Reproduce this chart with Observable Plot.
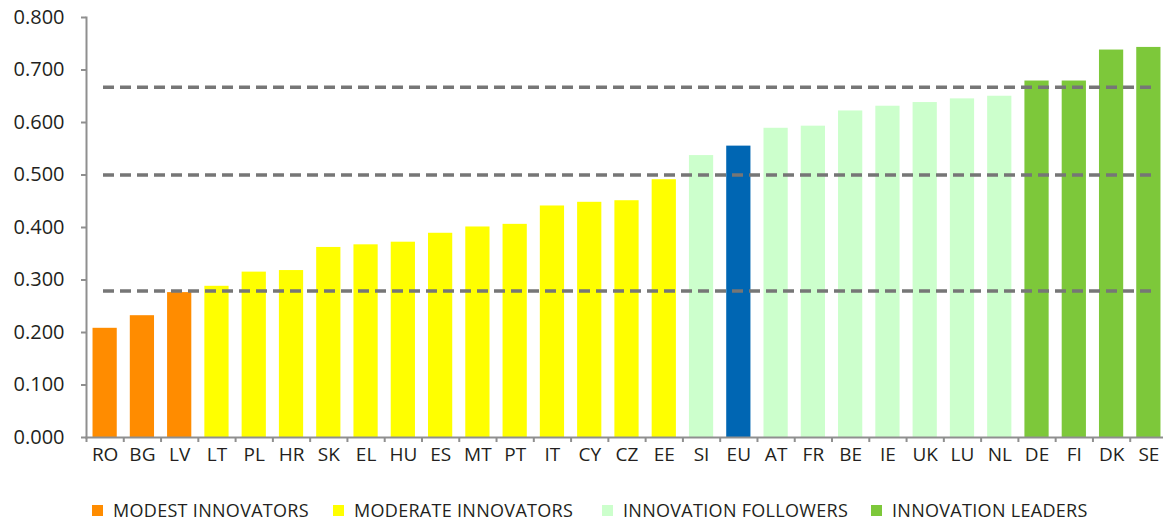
<!DOCTYPE html>
<html>
<head>
<meta charset="utf-8">
<script src="https://cdn.jsdelivr.net/npm/d3@7"></script>
<script src="https://cdn.jsdelivr.net/npm/@observablehq/plot@0.6"></script>
<style>
  body { margin: 0; background: #fff; font-family: "Open Sans", sans-serif; }
  #chart svg { display: block; }
  .legend { position: relative; height: 46px; font-size: 18px; letter-spacing: 0.3px; color: #231f20; }
  .legend .item { position: absolute; top: 24px; display: flex; align-items: center; white-space: nowrap; line-height: 22px; }
  .legend .sw { width: 11px; height: 11px; margin-right: 10px; }
</style>
</head>
<body>
<div id="chart"></div>
<div class="legend" id="legend"></div>
<script>
const countries = ["RO","BG","LV","LT","PL","HR","SK","EL","HU","ES","MT","PT","IT","CY","CZ","EE","SI","EU","AT","FR","BE","IE","UK","LU","NL","DE","FI","DK","SE"];
const values = [0.208,0.232,0.276,0.288,0.315,0.318,0.362,0.367,0.372,0.389,0.401,0.406,0.441,0.448,0.451,0.491,0.537,0.555,0.589,0.593,0.622,0.631,0.638,0.645,0.650,0.679,0.679,0.738,0.743];
const groups = ["MODEST INNOVATORS","MODEST INNOVATORS","MODEST INNOVATORS",
  "MODERATE INNOVATORS","MODERATE INNOVATORS","MODERATE INNOVATORS","MODERATE INNOVATORS","MODERATE INNOVATORS","MODERATE INNOVATORS","MODERATE INNOVATORS","MODERATE INNOVATORS","MODERATE INNOVATORS","MODERATE INNOVATORS","MODERATE INNOVATORS","MODERATE INNOVATORS","MODERATE INNOVATORS",
  "INNOVATION FOLLOWERS","EU",
  "INNOVATION FOLLOWERS","INNOVATION FOLLOWERS","INNOVATION FOLLOWERS","INNOVATION FOLLOWERS","INNOVATION FOLLOWERS","INNOVATION FOLLOWERS","INNOVATION FOLLOWERS",
  "INNOVATION LEADERS","INNOVATION LEADERS","INNOVATION LEADERS","INNOVATION LEADERS"];
const groupNames = ["MODEST INNOVATORS","MODERATE INNOVATORS","INNOVATION FOLLOWERS","INNOVATION LEADERS","EU"];
const groupColors = ["#ff8c00","#ffff00","#ccffcc","#7dc83a","#0066b3"];
const legendLeft = [92, 333, 602, 871];
const thresholds = [0.279, 0.500, 0.667];
const yTicks = [0,0.1,0.2,0.3,0.4,0.5,0.6,0.7,0.8];

const data = countries.map((c, i) => ({country: c, value: values[i], group: groups[i]}));

const W = 1163, H = 475, mL = 86, mR = -4;
const step = (W - mL - mR) / countries.length;
const axisGray = "#8f8f8f";

const chart = Plot.plot({
  width: W,
  height: H,
  marginLeft: mL,
  marginRight: mR,
  marginTop: 17,
  marginBottom: 38,
  style: {fontFamily: "'Open Sans', sans-serif", color: "#231f20", background: "#fff"},
  x: {domain: countries, paddingInner: 0.35, paddingOuter: 0.175, round: false, label: null},
  y: {domain: [0, 0.8], label: null},
  color: {domain: groupNames, range: groupColors},
  marks: [
    Plot.barY(data, {x: "country", y: "value", fill: "group"}),
    Plot.ruleY(thresholds, {y: d => d, stroke: "#767676", strokeWidth: 3.5, strokeDasharray: "11,6", insetLeft: 17, insetRight: 12}),
    Plot.frame({anchor: "left", stroke: axisGray, strokeWidth: 2}),
    Plot.frame({anchor: "bottom", stroke: axisGray, strokeWidth: 2}),
    Plot.ruleX(countries, {x: d => d, y1: 0, y2: 0, insetBottom: -5, dx: -step / 2, stroke: axisGray, strokeWidth: 2}),
    Plot.axisY({ticks: yTicks, tickFormat: d3.format(".3f"), tickSize: 5, tickPadding: 17, fontSize: 20, stroke: axisGray, strokeWidth: 2, fill: "#231f20"}),
    Plot.axisX({tickSize: 0, tickPadding: 10, fontSize: 19, fill: "#231f20"})
  ]
});
document.getElementById("chart").appendChild(chart);

const legend = document.getElementById("legend");
groupNames.slice(0, 4).forEach((g, i) => {
  const item = document.createElement("div");
  item.className = "item";
  item.style.left = legendLeft[i] + "px";
  const sw = document.createElement("span");
  sw.className = "sw";
  sw.style.background = groupColors[i];
  const t = document.createElement("span");
  t.textContent = g;
  item.appendChild(sw);
  item.appendChild(t);
  legend.appendChild(item);
});
</script>
</body>
</html>
